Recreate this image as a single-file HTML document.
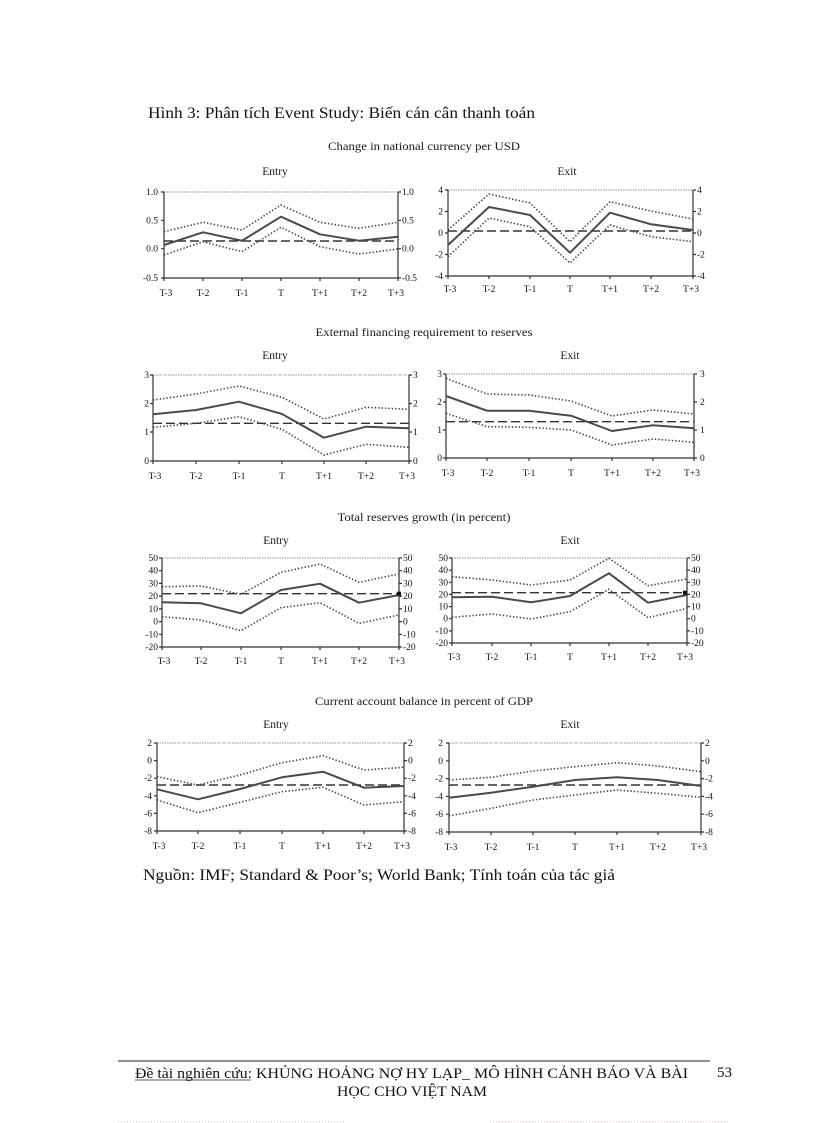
<!DOCTYPE html>
<html><head><meta charset="utf-8">
<style>
html,body{margin:0;padding:0;background:#fff;}
svg{display:block;}
text{font-family:"Liberation Serif","DejaVu Serif",serif;fill:#111;}
.t{font-size:9.5px;fill:#111;}
.ti{font-size:11.5px;fill:#1a1a1a;}
.ax{stroke:#333;stroke-width:1.2;fill:none;}
.tp{stroke:#aaa;stroke-width:1.2;stroke-dasharray:1.5 1;fill:none;}
.s{stroke:#4a4a4a;stroke-width:2;fill:none;stroke-linejoin:round;}
.d{stroke:#444;stroke-width:1.6;stroke-dasharray:1.4 2;fill:none;}
.da{stroke:#333;stroke-width:1.4;stroke-dasharray:9 4;fill:none;}
</style></head>
<body>
<svg width="816" height="1123" viewBox="0 0 816 1123" xmlns="http://www.w3.org/2000/svg">

<text x="148" y="118" style="font-size:16px" textLength="387" lengthAdjust="spacingAndGlyphs">Hình 3: Phân tích Event Study: Biến cán cân thanh toán</text>

<!-- ROW 1 -->
<text class="ti" x="424" y="150" text-anchor="middle" textLength="192" lengthAdjust="spacingAndGlyphs">Change in national currency per USD</text>
<text class="ti" x="275" y="175" text-anchor="middle">Entry</text>
<text class="ti" x="567" y="175" text-anchor="middle">Exit</text>

<!-- P1E -->
<line class="tp" x1="164" y1="192" x2="398" y2="192"/>
<path class="ax" d="M164 192V278H398V192"/>
<path class="ax" d="M161 192H164M161 220.3H164M161 248.7H164M161 278H164M398 192H401M398 220.3H401M398 248.7H401M398 278H401M164 278V281M203 278V281M242 278V281M281 278V281M320 278V281M359 278V281M398 278V281"/>
<g class="t" text-anchor="end"><text x="158" y="195">1.0</text><text x="158" y="223.3">0.5</text><text x="158" y="251.7">0.0</text><text x="158" y="281">-0.5</text></g>
<g class="t"><text x="402" y="195">1.0</text><text x="402" y="223.3">0.5</text><text x="402" y="251.7">0.0</text><text x="402" y="281">-0.5</text></g>
<g class="t" text-anchor="middle"><text x="166" y="296">T-3</text><text x="203" y="296">T-2</text><text x="242" y="296">T-1</text><text x="281" y="296">T</text><text x="320" y="296">T+1</text><text x="359" y="296">T+2</text><text x="396" y="296">T+3</text></g>
<line class="da" x1="164" y1="241" x2="398" y2="241"/>
<polyline class="d" points="164,231.7 203,222.3 242,230 281,205 320,222.3 359,228.3 398,222.3"/>
<polyline class="d" points="164,255 203,241.7 242,251.7 281,227.3 320,246.7 359,254 398,249"/>
<polyline class="s" points="164,245 203,232.3 242,240.7 281,216.7 320,234.3 359,240.7 398,236.7"/>

<!-- P1X -->
<line class="tp" x1="448" y1="190" x2="693" y2="190"/>
<path class="ax" d="M448 190V276H693V190"/>
<path class="ax" d="M445 190H448M445 211.5H448M445 233H448M445 254.5H448M445 276H448M693 190H696M693 211.5H696M693 233H696M693 254.5H696M693 276H696M448 276V279M489 276V279M530 276V279M570 276V279M610 276V279M651 276V279M693 276V279"/>
<g class="t" text-anchor="end"><text x="443" y="193">4</text><text x="443" y="214.5">2</text><text x="443" y="236">0</text><text x="443" y="257.5">-2</text><text x="443" y="279">-4</text></g>
<g class="t"><text x="697" y="193">4</text><text x="697" y="214.5">2</text><text x="697" y="236">0</text><text x="697" y="257.5">-2</text><text x="697" y="279">-4</text></g>
<g class="t" text-anchor="middle"><text x="450" y="292">T-3</text><text x="489" y="292">T-2</text><text x="530" y="292">T-1</text><text x="570" y="292">T</text><text x="610" y="292">T+1</text><text x="651" y="292">T+2</text><text x="691" y="292">T+3</text></g>
<line class="da" x1="448" y1="231" x2="693" y2="231"/>
<polyline class="d" points="448,230 489,194 530,203 570,241.7 610,201.7 651,211 693,219"/>
<polyline class="d" points="448,256.7 489,218 530,226.7 570,263 610,225 651,236.7 693,241.7"/>
<polyline class="s" points="448,245 489,207 530,215 570,252.7 610,212.7 651,224.3 693,230"/>

<!-- ROW 2 -->
<text class="ti" x="424" y="336" text-anchor="middle" textLength="217" lengthAdjust="spacingAndGlyphs">External financing requirement to reserves</text>
<text class="ti" x="275" y="359" text-anchor="middle">Entry</text>
<text class="ti" x="570" y="359" text-anchor="middle">Exit</text>

<!-- P2E -->
<line class="tp" x1="153" y1="375" x2="409" y2="375"/>
<path class="ax" d="M153 375V461H409V375"/>
<path class="ax" d="M150 375H153M150 403.5H153M150 432H153M150 461H153M409 375H412M409 403.5H412M409 432H412M409 461H412M153 461V464M196 461V464M239 461V464M282 461V464M324 461V464M366 461V464M409 461V464"/>
<g class="t" text-anchor="end"><text x="149" y="378">3</text><text x="149" y="406.5">2</text><text x="149" y="435">1</text><text x="149" y="464">0</text></g>
<g class="t"><text x="413" y="378">3</text><text x="413" y="406.5">2</text><text x="413" y="435">1</text><text x="413" y="464">0</text></g>
<g class="t" text-anchor="middle"><text x="155" y="479">T-3</text><text x="196" y="479">T-2</text><text x="239" y="479">T-1</text><text x="282" y="479">T</text><text x="324" y="479">T+1</text><text x="366" y="479">T+2</text><text x="407" y="479">T+3</text></g>
<line class="da" x1="153" y1="423.3" x2="409" y2="423.3"/>
<polyline class="d" points="153,400 196,394 239,386 282,397.3 324,419 366,407.3 409,409.3"/>
<polyline class="d" points="153,427.3 196,423.3 239,416.7 282,429.3 324,455 366,444.3 409,447.3"/>
<polyline class="s" points="153,414.3 196,410 239,401.7 282,414 324,437.7 366,426.7 409,428.3"/>

<!-- P2X -->
<line class="tp" x1="446" y1="374" x2="694" y2="374"/>
<path class="ax" d="M446 374V458H694V374"/>
<path class="ax" d="M443 374H446M443 402H446M443 430H446M443 458H446M694 374H697M694 402H697M694 430H697M694 458H697M446 458V461M487 458V461M529 458V461M571 458V461M612 458V461M653 458V461M694 458V461"/>
<g class="t" text-anchor="end"><text x="442" y="377">3</text><text x="442" y="405">2</text><text x="442" y="433">1</text><text x="442" y="461">0</text></g>
<g class="t"><text x="700" y="377">3</text><text x="700" y="405">2</text><text x="700" y="433">1</text><text x="700" y="461">0</text></g>
<g class="t" text-anchor="middle"><text x="448" y="476">T-3</text><text x="487" y="476">T-2</text><text x="529" y="476">T-1</text><text x="571" y="476">T</text><text x="612" y="476">T+1</text><text x="653" y="476">T+2</text><text x="692" y="476">T+3</text></g>
<line class="da" x1="446" y1="421.7" x2="694" y2="421.7"/>
<polyline class="d" points="446,378.3 487,394 529,395 571,401 612,416 653,410 694,414"/>
<polyline class="d" points="446,413.3 487,426.7 529,427.3 571,430 612,445 653,439 694,442.3"/>
<polyline class="s" points="446,396 487,410.7 529,410.7 571,415.7 612,431 653,425.3 694,428.3"/>

<!-- ROW 3 -->
<text class="ti" x="424" y="521" text-anchor="middle" textLength="173" lengthAdjust="spacingAndGlyphs">Total reserves growth (in percent)</text>
<text class="ti" x="276" y="544" text-anchor="middle">Entry</text>
<text class="ti" x="570" y="544" text-anchor="middle">Exit</text>

<!-- P3E -->
<line class="tp" x1="162" y1="558" x2="399" y2="558"/>
<path class="ax" d="M162 558V647H399V558"/>
<path class="ax" d="M159 558H162M159 570.7H162M159 583.4H162M159 596.1H162M159 608.9H162M159 621.6H162M159 634.3H162M159 647H162M399 558H402M399 570.7H402M399 583.4H402M399 596.1H402M399 608.9H402M399 621.6H402M399 634.3H402M399 647H402M162 647V650M201 647V650M241 647V650M281 647V650M320 647V650M359 647V650M399 647V650"/>
<g class="t" text-anchor="end"><text x="158" y="561">50</text><text x="158" y="573.7">40</text><text x="158" y="586.4">30</text><text x="158" y="599.1">20</text><text x="158" y="611.9">10</text><text x="158" y="624.6">0</text><text x="158" y="637.3">-10</text><text x="158" y="650">-20</text></g>
<g class="t"><text x="403" y="561">50</text><text x="403" y="573.7">40</text><text x="403" y="586.4">30</text><text x="403" y="599.1">20</text><text x="403" y="611.9">10</text><text x="403" y="624.6">0</text><text x="403" y="637.3">-10</text><text x="403" y="650">-20</text></g>
<g class="t" text-anchor="middle"><text x="164" y="664">T-3</text><text x="201" y="664">T-2</text><text x="241" y="664">T-1</text><text x="281" y="664">T</text><text x="320" y="664">T+1</text><text x="359" y="664">T+2</text><text x="397" y="664">T+3</text></g>
<line class="da" x1="162" y1="593.7" x2="399" y2="593.7"/>
<polyline class="d" points="162,586.7 201,586 241,594.3 281,572.3 320,564 359,582.3 399,574"/>
<polyline class="d" points="162,616.7 201,620 241,630.7 281,607.7 320,602.7 359,623.3 399,615"/>
<polyline class="s" points="162,602.3 201,603.3 241,613.3 281,590 320,583.7 359,602.7 399,595"/>
<rect x="397" y="591.7" width="4" height="4" fill="#111"/>

<!-- P3X -->
<line class="tp" x1="452" y1="558" x2="687" y2="558"/>
<path class="ax" d="M452 558V643H687V558"/>
<path class="ax" d="M449 558H452M449 570.1H452M449 582.3H452M449 594.4H452M449 606.6H452M449 618.7H452M449 630.9H452M449 643H452M687 558H690M687 570.1H690M687 582.3H690M687 594.4H690M687 606.6H690M687 618.7H690M687 630.9H690M687 643H690M452 643V646M492 643V646M531 643V646M570 643V646M609 643V646M648 643V646M687 643V646"/>
<g class="t" text-anchor="end"><text x="448" y="561">50</text><text x="448" y="573.1">40</text><text x="448" y="585.3">30</text><text x="448" y="597.4">20</text><text x="448" y="609.6">10</text><text x="448" y="621.7">0</text><text x="448" y="633.9">-10</text><text x="448" y="646">-20</text></g>
<g class="t"><text x="691" y="561">50</text><text x="691" y="573.1">40</text><text x="691" y="585.3">30</text><text x="691" y="597.4">20</text><text x="691" y="609.6">10</text><text x="691" y="621.7">0</text><text x="691" y="633.9">-10</text><text x="691" y="646">-20</text></g>
<g class="t" text-anchor="middle"><text x="454" y="660">T-3</text><text x="492" y="660">T-2</text><text x="531" y="660">T-1</text><text x="570" y="660">T</text><text x="609" y="660">T+1</text><text x="648" y="660">T+2</text><text x="685" y="660">T+3</text></g>
<line class="da" x1="452" y1="592.7" x2="687" y2="592.7"/>
<polyline class="d" points="452,576.7 492,580 531,585 570,580 609,558.3 648,585.7 687,579"/>
<polyline class="d" points="452,617.3 492,614 531,619 570,611.7 609,589.3 648,617.7 687,608.3"/>
<polyline class="s" points="452,597.3 492,596.7 531,602.3 570,596 609,573.3 648,602.7 687,595"/>
<rect x="683" y="590.7" width="4" height="4" fill="#111"/>

<!-- ROW 4 -->
<text class="ti" x="424" y="705" text-anchor="middle" textLength="218" lengthAdjust="spacingAndGlyphs">Current account balance in percent of GDP</text>
<text class="ti" x="276" y="728" text-anchor="middle">Entry</text>
<text class="ti" x="570" y="728" text-anchor="middle">Exit</text>

<!-- P4E -->
<line class="tp" x1="157" y1="743" x2="404" y2="743"/>
<path class="ax" d="M157 743V831H404V743"/>
<path class="ax" d="M154 743H157M154 760.6H157M154 778.2H157M154 795.8H157M154 813.4H157M154 831H157M404 743H407M404 760.6H407M404 778.2H407M404 795.8H407M404 813.4H407M404 831H407M157 831V834M198 831V834M240 831V834M282 831V834M323 831V834M364 831V834M404 831V834"/>
<g class="t" text-anchor="end"><text x="152" y="746">2</text><text x="152" y="763.6">0</text><text x="152" y="781.2">-2</text><text x="152" y="798.8">-4</text><text x="152" y="816.4">-6</text><text x="152" y="834">-8</text></g>
<g class="t"><text x="408" y="746">2</text><text x="408" y="763.6">0</text><text x="408" y="781.2">-2</text><text x="408" y="798.8">-4</text><text x="408" y="816.4">-6</text><text x="408" y="834">-8</text></g>
<g class="t" text-anchor="middle"><text x="159" y="849">T-3</text><text x="198" y="849">T-2</text><text x="240" y="849">T-1</text><text x="282" y="849">T</text><text x="323" y="849">T+1</text><text x="364" y="849">T+2</text><text x="402" y="849">T+3</text></g>
<line class="da" x1="157" y1="785" x2="404" y2="785"/>
<polyline class="d" points="157,776.7 198,785 240,775 282,762.7 323,755.7 364,770 404,767.3"/>
<polyline class="d" points="157,800 198,812.7 240,802.3 282,791.7 323,787.3 364,805 404,801.7"/>
<polyline class="s" points="157,789.3 198,799.3 240,789 282,777.3 323,771.7 364,787.7 404,786"/>

<!-- P4X -->
<line class="tp" x1="449" y1="743" x2="701" y2="743"/>
<path class="ax" d="M449 743V832H701V743"/>
<path class="ax" d="M446 743H449M446 760.8H449M446 778.6H449M446 796.4H449M446 814.2H449M446 832H449M701 743H704M701 760.8H704M701 778.6H704M701 796.4H704M701 814.2H704M701 832H704M449 832V835M491 832V835M533 832V835M575 832V835M617 832V835M658 832V835M701 832V835"/>
<g class="t" text-anchor="end"><text x="443" y="746">2</text><text x="443" y="763.8">0</text><text x="443" y="781.6">-2</text><text x="443" y="799.4">-4</text><text x="443" y="817.2">-6</text><text x="443" y="835">-8</text></g>
<g class="t"><text x="705" y="746">2</text><text x="705" y="763.8">0</text><text x="705" y="781.6">-2</text><text x="705" y="799.4">-4</text><text x="705" y="817.2">-6</text><text x="705" y="835">-8</text></g>
<g class="t" text-anchor="middle"><text x="451" y="850">T-3</text><text x="491" y="850">T-2</text><text x="533" y="850">T-1</text><text x="575" y="850">T</text><text x="617" y="850">T+1</text><text x="658" y="850">T+2</text><text x="699" y="850">T+3</text></g>
<line class="da" x1="449" y1="785" x2="701" y2="785"/>
<polyline class="d" points="449,780 491,777.3 533,771 575,766.7 617,762.7 658,766 701,771.7"/>
<polyline class="d" points="449,816 491,808.3 533,800 575,795 617,790 658,793.3 701,797.3"/>
<polyline class="s" points="449,797.7 491,792.7 533,786.7 575,780 617,777.3 658,780 701,786"/>

<!-- Source -->
<text x="143" y="880" style="font-size:15.5px" textLength="472" lengthAdjust="spacingAndGlyphs">Nguồn: IMF; Standard  &amp; Poor’s; World Bank; Tính toán của tác giả</text>

<!-- Footer -->
<line x1="118" y1="1061" x2="710" y2="1061" stroke="#222" stroke-width="1"/>
<text x="135" y="1078" style="font-size:15px" textLength="117" lengthAdjust="spacingAndGlyphs">Đề tài nghiên  cứu:</text>
<line x1="135" y1="1080" x2="251" y2="1080" stroke="#222" stroke-width="0.8"/>
<text x="256" y="1078" style="font-size:15px" textLength="432" lengthAdjust="spacingAndGlyphs">KHỦNG HOẢNG NỢ HY LẠP_ MÔ HÌNH CẢNH BÁO VÀ BÀI</text>
<text x="337" y="1096" style="font-size:15px" textLength="150" lengthAdjust="spacingAndGlyphs">HỌC CHO VIỆT NAM</text>
<text x="717" y="1077" style="font-size:15px">53</text>
<line x1="118" y1="1121.5" x2="345" y2="1121.5" stroke="#ccc" stroke-width="1" stroke-dasharray="1 2"/>
<line x1="490" y1="1121.5" x2="730" y2="1121.5" stroke="#e8c8e8" stroke-width="1" stroke-dasharray="1 2"/>
</svg>
</body></html>
